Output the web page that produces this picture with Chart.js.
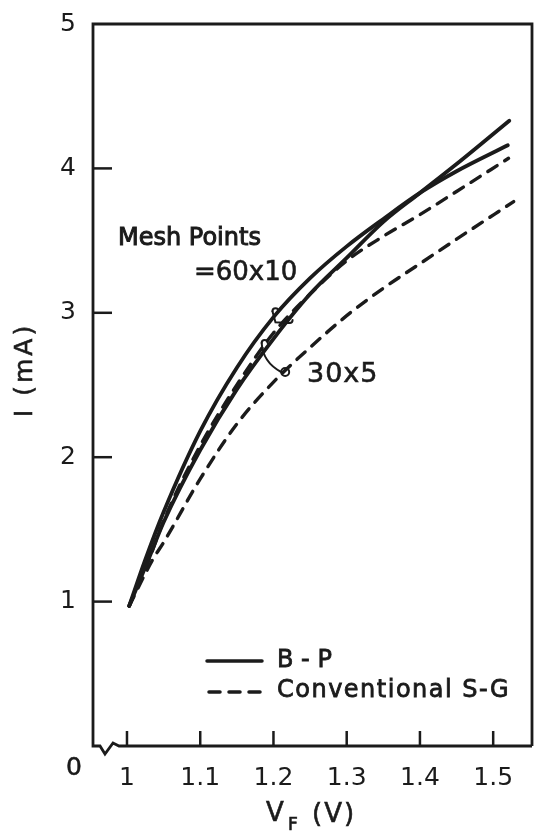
<!DOCTYPE html>
<html><head><meta charset="utf-8">
<script src="https://cdn.jsdelivr.net/npm/chart.js@4.4.1/dist/chart.umd.min.js"></script>
<style>html,body{margin:0;padding:0;background:#fff;}</style>
</head><body>
<canvas id="c" width="541" height="832"></canvas>
<script>
// ---- data ----
const xTickValues = [1.0, 1.1, 1.2, 1.3, 1.4, 1.5];
const xTickLabels = ['1', '1.1', '1.2', '1.3', '1.4', '1.5'];
const yTickValues = [1, 2, 3, 4, 5];
const yTickLabels = ['1', '2', '3', '4', '5'];

// B-P, mesh 60x10 (solid, more curved)
const vBP60 = [1.003, 1.025, 1.05, 1.1, 1.15, 1.2, 1.25, 1.3, 1.35, 1.4, 1.45, 1.52];
const iBP60 = [0.97, 1.29, 1.62, 2.18, 2.62, 2.97, 3.24, 3.46, 3.65, 3.83, 3.98, 4.16];
// B-P, mesh 30x5 (solid, straighter)
const vBP30 = [1.003, 1.03, 1.05, 1.1, 1.15, 1.2, 1.25, 1.3, 1.35, 1.4, 1.45, 1.522];
const iBP30 = [0.97, 1.30, 1.55, 2.05, 2.47, 2.82, 3.13, 3.38, 3.63, 3.83, 4.03, 4.33];
// Conventional S-G, mesh 60x10 (dashed, upper)
const vSG60 = [1.003, 1.03, 1.05, 1.1, 1.15, 1.2, 1.25, 1.3, 1.35, 1.4, 1.45, 1.521];
const iSG60 = [0.97, 1.29, 1.56, 2.08, 2.50, 2.86, 3.13, 3.36, 3.53, 3.68, 3.84, 4.07];
// Conventional S-G, mesh 30x5 (dashed, lower)
const vSG30 = [1.003, 1.035, 1.05, 1.1, 1.15, 1.2, 1.25, 1.3, 1.35, 1.4, 1.45, 1.528];
const iSG30 = [0.97, 1.29, 1.41, 1.85, 2.23, 2.52, 2.76, 2.98, 3.17, 3.34, 3.51, 3.77];

const legendLabels = ['B - P', 'Conventional S-G'];
const meshTitle = 'Mesh Points';
const mesh60Label = '=60x10';
const mesh30Label = '30x5';
const originLabel = '0';

const INK = '#1b1b1b';
const pts = (vs, is) => vs.map((v, k) => ({x: v, y: is[k]}));

function txt(ctx, s, x, y, font, align, stroke, spacing) {
  ctx.save();
  ctx.font = font; ctx.fillStyle = INK; ctx.strokeStyle = INK;
  ctx.textAlign = align || 'left'; ctx.textBaseline = 'middle';
  if (spacing) ctx.letterSpacing = spacing;
  ctx.fillText(s, x, y);
  if (stroke) { ctx.lineWidth = stroke; ctx.strokeText(s, x, y); }
  ctx.restore();
}

const decor = {
  id: 'decor',
  afterDraw(chart) {
    const {ctx, chartArea: a, scales: {x, y}} = chart;
    ctx.save();
    ctx.strokeStyle = INK; ctx.lineWidth = 2.8; ctx.lineJoin = 'miter'; ctx.lineCap = 'butt';
    // frame with axis break at lower left
    ctx.beginPath();
    ctx.moveTo(a.right, a.bottom);
    ctx.lineTo(a.left + 26, a.bottom);
    ctx.lineTo(a.left + 20, a.bottom - 3);
    ctx.lineTo(a.left + 12, a.bottom + 8);
    ctx.lineTo(a.left + 7, a.bottom);
    ctx.lineTo(a.left, a.bottom);
    ctx.lineTo(a.left, a.top);
    ctx.lineTo(a.right, a.top);
    ctx.lineTo(a.right, a.bottom);
    ctx.stroke();
    // inward tick marks
    ctx.lineWidth = 2.5;
    yTickValues.forEach(v => {
      if (v >= 5) return;
      const py = y.getPixelForValue(v);
      ctx.beginPath(); ctx.moveTo(a.left, py); ctx.lineTo(a.left + 19, py); ctx.stroke();
    });
    xTickValues.forEach(v => {
      const px = x.getPixelForValue(v);
      ctx.beginPath(); ctx.moveTo(px, a.bottom); ctx.lineTo(px, a.bottom - 15); ctx.stroke();
    });
    // origin label
    txt(ctx, originLabel, a.left - 19, a.bottom + 22, '25px "DejaVu Sans"', 'center', 0.5);
    // axis titles
    ctx.save();
    ctx.translate(25, 370); ctx.rotate(-Math.PI / 2);
    txt(ctx, 'I (mA)', 0, 0, '25px "DejaVu Sans"', 'center', 0.6, '3px');
    ctx.restore();
    txt(ctx, 'V', 266, 814, '26px "DejaVu Sans"', 'left', 0.6);
    txt(ctx, 'F', 288, 826, '17px "DejaVu Sans"', 'left', 0.6);
    txt(ctx, '(V)', 312, 815, '26px "DejaVu Sans"', 'left', 0.6, '2px');
    // legend
    const lx0 = a.left + 114, lx1 = a.left + 169;
    ctx.lineWidth = 3.5; ctx.lineCap = 'round';
    ctx.beginPath(); ctx.moveTo(lx0, 661); ctx.lineTo(lx1, 661); ctx.stroke();
    ctx.setLineDash([11, 9]);
    ctx.beginPath(); ctx.moveTo(lx0 + 2, 692); ctx.lineTo(lx1, 692); ctx.stroke();
    ctx.setLineDash([]);
    txt(ctx, legendLabels[0], a.left + 184, 661, '24px "DejaVu Sans"', 'left', 0.8);
    txt(ctx, legendLabels[1], a.left + 184, 691, '24px "DejaVu Sans"', 'left', 0.8, '1.5px');
    // mesh annotations
    txt(ctx, meshTitle, 118, 239, '24px "DejaVu Sans"', 'left', 1.0);
    txt(ctx, mesh60Label, 194, 273, '26px "DejaVu Sans"', 'left', 0.6);
    txt(ctx, mesh30Label, 307, 375, '27px "DejaVu Sans"', 'left', 0.6, '1px');
    // brackets
    ctx.lineWidth = 2; ctx.lineCap = 'round';
    const P = (v, i) => [x.getPixelForValue(v), y.getPixelForValue(i)];
    let p1 = P(1.2, 2.99), p2 = P(1.222, 2.93);
    ctx.beginPath(); ctx.arc(p1[0] + 2, p1[1] - 3, 3, Math.PI, 2 * Math.PI); ctx.stroke();
    ctx.beginPath(); ctx.moveTo(p1[0] - 1, p1[1] - 3); ctx.lineTo(p1[0] + 2, p1[1] + 8); ctx.lineTo(p2[0], p2[1]); ctx.stroke();
    ctx.beginPath(); ctx.arc(p2[0], p2[1] - 3, 3, 0, Math.PI); ctx.stroke();
    let q1 = P(1.188, 2.77), q2 = P(1.216, 2.59);
    ctx.beginPath(); ctx.arc(q1[0], q1[1] - 3, 3, Math.PI, 2 * Math.PI); ctx.stroke();
    ctx.beginPath(); ctx.moveTo(q1[0] - 3, q1[1] - 3);
    ctx.quadraticCurveTo(q1[0] - 2, q2[1] - 10, q2[0] - 4, q2[1]); ctx.stroke();
    ctx.beginPath(); ctx.arc(q2[0], q2[1], 4, 0, 2 * Math.PI); ctx.stroke();
    ctx.restore();
  }
};

const solid = {borderColor: INK, borderWidth: 3.8, pointRadius: 0, fill: false, cubicInterpolationMode: 'monotone', borderCapStyle: 'round'};
const dashed = {borderColor: INK, borderWidth: 3.4, pointRadius: 0, fill: false, cubicInterpolationMode: 'monotone', borderCapStyle: 'round', borderDash: [11, 9]};

new Chart(document.getElementById('c'), {
  type: 'line',
  data: {
    datasets: [
      Object.assign({label: 'B-P 60x10', data: pts(vBP60, iBP60)}, solid),
      Object.assign({label: 'B-P 30x5', data: pts(vBP30, iBP30)}, solid),
      Object.assign({label: 'S-G 60x10', data: pts(vSG60, iSG60)}, dashed),
      Object.assign({label: 'S-G 30x5', data: pts(vSG30, iSG30)}, dashed)
    ]
  },
  options: {
    responsive: false, animation: false, devicePixelRatio: 1,
    layout: {padding: {top: 20, right: 9, bottom: 0, left: 0}},
    plugins: {legend: {display: false}, tooltip: {enabled: false}},
    scales: {
      x: {
        type: 'linear', min: 0.9536, max: 1.553,
        grid: {display: false}, border: {display: false},
        afterBuildTicks: s => { s.ticks = xTickValues.map(v => ({value: v})); },
        afterFit: s => { s.height = 86; },
        ticks: {padding: 9, color: INK, maxRotation: 0, autoSkip: false,
          font: {family: 'DejaVu Sans', size: 25},
          callback: v => xTickLabels[xTickValues.indexOf(v)]}
      },
      y: {
        type: 'linear', min: 0, max: 5,
        grid: {display: false}, border: {display: false},
        afterBuildTicks: s => { s.ticks = yTickValues.map(v => ({value: v})); },
        afterFit: s => { s.width = 93; },
        ticks: {padding: 9, color: INK, font: {family: 'DejaVu Sans', size: 25},
          callback: v => yTickLabels[yTickValues.indexOf(v)]}
      }
    }
  },
  plugins: [decor]
});
</script>
</body></html>
